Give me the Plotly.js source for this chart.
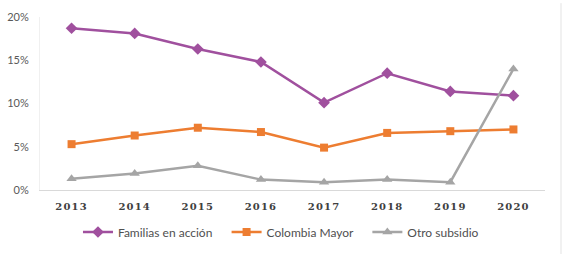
<!DOCTYPE html>
<html>
<head>
<meta charset="utf-8">
<script src="https://cdn.plot.ly/plotly-3.0.1.min.js"></script>
<style>
html,body{margin:0;padding:0;background:#fff;}
#chart{width:566px;height:254px;}
.xtick text{letter-spacing:1.2px;}
</style>
</head>
<body>
<div id="chart"></div>
<script>
const years = ["2013","2014","2015","2016","2017","2018","2019","2020"];
const familias = [18.7, 18.1, 16.3, 14.8, 10.1, 13.5, 11.4, 10.9];
const colombiaMayor = [5.3, 6.3, 7.2, 6.7, 4.9, 6.6, 6.8, 7.0];
const otro = [1.3, 1.9, 2.8, 1.2, 0.9, 1.2, 0.9, 14.0];
const seriesNames = ["Familias en acción", "Colombia Mayor", "Otro subsidio"];
const yTickVals = [0, 5, 10, 15, 20];
const yTickText = ["0%", "5%", "10%", "15%", "20%"];

const pad = "\u00a0\u00a0\u00a0";
const traces = [
  {x: years, y: familias, name: seriesNames[0] + pad, type: 'scatter', mode: 'lines+markers',
   line: {color: '#A0509E', width: 2.5}, marker: {symbol: 'diamond', size: 9, color: '#A0509E'}},
  {x: years, y: colombiaMayor, name: seriesNames[1] + pad, type: 'scatter', mode: 'lines+markers',
   line: {color: '#ED7D31', width: 2.5}, marker: {symbol: 'square', size: 8, color: '#ED7D31'}},
  {x: years, y: otro, name: seriesNames[2], type: 'scatter', mode: 'lines+markers',
   line: {color: '#A5A5A5', width: 2.5}, marker: {symbol: 'triangle-up', size: 9, color: '#A5A5A5'}}
];

const layout = {
  width: 566, height: 254,
  margin: {l: 40, r: 21, t: 17, b: 64, autoexpand: false},
  paper_bgcolor: '#fff', plot_bgcolor: '#fff',
  showlegend: true,
  xaxis: {
    type: 'category', range: [-0.5, 7.5],
    showgrid: false, zeroline: false,
    showline: true, linecolor: '#D9D9D9', linewidth: 1,
    ticks: '', ticklabelstandoff: 7,
    tickfont: {family: 'DejaVu Serif', size: 10, color: '#404040', weight: 'bold'}
  },
  yaxis: {
    range: [0, 20], tickvals: yTickVals, ticktext: yTickText,
    showgrid: false, zeroline: false,
    showline: true, linecolor: '#F0F0F0', linewidth: 1,
    ticks: '', ticklabelstandoff: 8,
    tickfont: {family: 'Lato', size: 11, color: '#595959'}
  },
  legend: {
    orientation: 'h', x: 0.0752, xanchor: 'left',
    yref: 'container', y: 0.0866, yanchor: 'middle',
    font: {family: 'Lato', size: 12, color: '#505050'},
    itemwidth: 30, tracegroupgap: 0
  },
  shapes: [
    {type: 'line', xref: 'paper', yref: 'paper', x0: 1.0317, x1: 1.0317, y0: -1.8, y1: 1.08,
     line: {color: '#E3E3E3', width: 1}}
  ]
};

Plotly.newPlot('chart', traces, layout, {displayModeBar: false, staticPlot: true});
</script>
</body>
</html>
